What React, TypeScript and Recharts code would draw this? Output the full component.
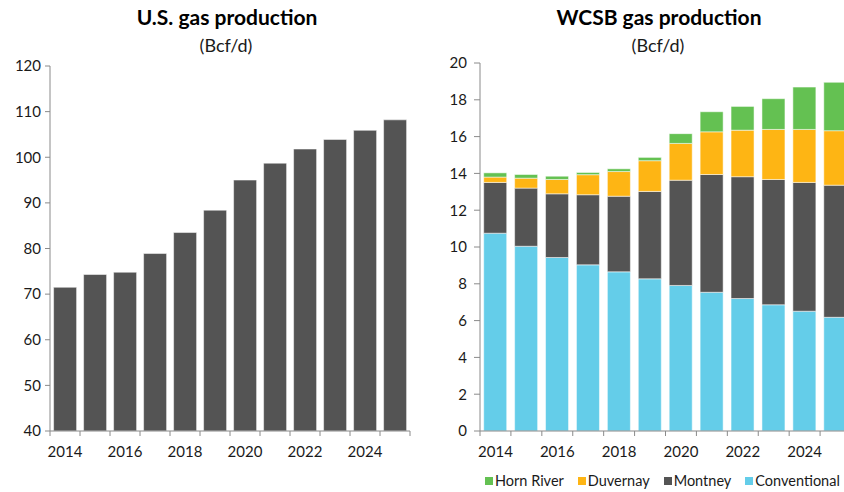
import { Bar, BarChart, XAxis, YAxis } from 'recharts';

const years = ['2014', '2015', '2016', '2017', '2018', '2019', '2020', '2021', '2022', '2023', '2024', '2025'];

// U.S. gas production, Bcf/d
const usProduction = [71.5, 74.3, 74.8, 78.9, 83.5, 88.4, 95.0, 98.7, 101.8, 103.9, 105.9, 108.2];

// WCSB gas production by play, Bcf/d
const conventional = [10.75, 10.04, 9.43, 9.03, 8.65, 8.27, 7.91, 7.54, 7.2, 6.86, 6.51, 6.18];
const montney = [2.76, 3.16, 3.46, 3.81, 4.11, 4.75, 5.72, 6.4, 6.62, 6.81, 7.0, 7.18];
const duvernay = [0.29, 0.54, 0.78, 1.09, 1.34, 1.67, 2.0, 2.32, 2.53, 2.72, 2.88, 2.96];
const hornRiver = [0.23, 0.2, 0.18, 0.12, 0.15, 0.18, 0.53, 1.09, 1.29, 1.67, 2.3, 2.63];

const usTicks = [40, 50, 60, 70, 80, 90, 100, 110, 120];
const wcsbTicks = [0, 2, 4, 6, 8, 10, 12, 14, 16, 18, 20];

const font = 'Lato, "Open Sans", sans-serif';
const axisColor = '#8a8a8a';
const textColor = '#1a1a1a';
const barGray = '#545454';

const wcsbSeries = [
  { key: 'conventional', name: 'Conventional', color: '#64cde9' },
  { key: 'montney', name: 'Montney', color: barGray },
  { key: 'duvernay', name: 'Duvernay', color: '#feb514' },
  { key: 'hornRiver', name: 'Horn River', color: '#64c152' },
];

const usRows = years.map((year, i) => ({ year, value: usProduction[i] }));
const wcsbRows = years.map((year, i) => ({
  year,
  conventional: conventional[i],
  montney: montney[i],
  duvernay: duvernay[i],
  hornRiver: hornRiver[i],
}));

// tick marks sit on category boundaries, labels on every other year
const YearTick = (props: any) => {
  const { x, y, payload, index, visibleTicksCount } = props;
  const half = payload?.offset ?? 15;
  return (
    <g>
      <line x1={x - half} y1={y} x2={x - half} y2={y + 5} stroke={axisColor} />
      {index === visibleTicksCount - 1 && <line x1={x + half} y1={y} x2={x + half} y2={y + 5} stroke={axisColor} />}
      {index % 2 === 0 && (
        <text x={x} y={y + 26} textAnchor="middle" fill={textColor} fontSize={15} fontFamily={font}>
          {payload.value}
        </text>
      )}
    </g>
  );
};

const Titles = () => (
  <svg width={844} height={492} style={{ position: 'absolute', left: 0, top: 0, pointerEvents: 'none' }}>
    <text x={227} y={25} textAnchor="middle" fontSize={21} fontWeight={700} fontFamily={font} fill="#000">
      U.S. gas production
    </text>
    <text x={226} y={51.5} textAnchor="middle" fontSize={18} fontFamily={font} fill={textColor}>
      (Bcf/d)
    </text>
    <text x={659} y={25} textAnchor="middle" fontSize={21} fontWeight={700} fontFamily={font} fill="#000">
      WCSB gas production
    </text>
    <text x={658} y={51.5} textAnchor="middle" fontSize={18} fontFamily={font} fill={textColor}>
      (Bcf/d)
    </text>
  </svg>
);

const WcsbLegend = () => (
  <div
    style={{
      position: 'absolute',
      left: 485,
      top: 473,
      display: 'flex',
      alignItems: 'center',
      gap: 14,
      fontFamily: font,
      fontSize: 14.5,
      lineHeight: '16px',
      color: textColor,
      whiteSpace: 'nowrap',
    }}
  >
    {[...wcsbSeries].reverse().map((s) => (
      <div key={s.key} style={{ display: 'flex', alignItems: 'center' }}>
        <span style={{ width: 8, height: 8, background: s.color, marginRight: 2, display: 'inline-block' }} />
        <span>{s.name}</span>
      </div>
    ))}
  </div>
);

export default function App() {
  return (
    <div style={{ position: 'absolute', left: 0, top: 0, width: 844, height: 492, overflow: 'hidden', background: '#fff' }}>
      <div style={{ position: 'absolute', left: 0, top: 0 }}>
        <BarChart width={420} height={492} data={usRows} margin={{ top: 66, right: 10, bottom: 31, left: 0 }} barCategoryGap="12%">
          <XAxis dataKey="year" interval={0} height={30} stroke={axisColor} tickLine={false} tickSize={0} tickMargin={0} tick={YearTick} />
          <YAxis
            width={50}
            domain={[40, 120]}
            ticks={usTicks}
            stroke={axisColor}
            tickSize={5}
            tickMargin={4}
            tick={{ fill: textColor, fontSize: 15, fontFamily: font }}
          />
          <Bar dataKey="value" fill={barGray} stroke="#ffffff" strokeOpacity={0.5} isAnimationActive={false} />
        </BarChart>
      </div>
      <div style={{ position: 'absolute', left: 430, top: 0 }}>
        <BarChart width={421} height={492} data={wcsbRows} margin={{ top: 63, right: 0, bottom: 31, left: 0 }} barCategoryGap="12%">
          <XAxis dataKey="year" interval={0} height={30} stroke={axisColor} tickLine={false} tickSize={0} tickMargin={0} tick={YearTick} />
          <YAxis
            width={50}
            domain={[0, 20]}
            ticks={wcsbTicks}
            stroke={axisColor}
            tickSize={6}
            tickMargin={7}
            tick={{ fill: textColor, fontSize: 15, fontFamily: font }}
          />
          {wcsbSeries.map((s) => (
            <Bar
              key={s.key}
              dataKey={s.key}
              name={s.name}
              stackId="wcsb"
              fill={s.color}
              stroke="#ffffff"
              strokeOpacity={0.5}
              isAnimationActive={false}
            />
          ))}
        </BarChart>
      </div>
      <Titles />
      <WcsbLegend />
    </div>
  );
}
